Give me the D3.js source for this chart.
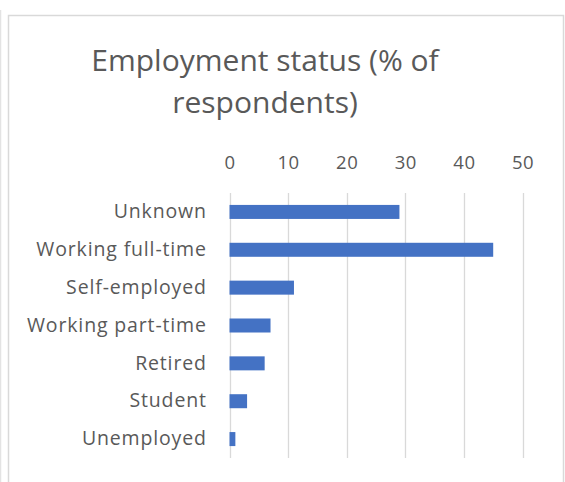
<!DOCTYPE html>
<html>
<head>
<meta charset="utf-8">
<script src="https://cdn.jsdelivr.net/npm/d3@7"></script>
<style>
  html, body { margin: 0; padding: 0; background: #ffffff; }
  svg { display: block; }
  text { font-family: "Open Sans", sans-serif; fill: #595959; }
</style>
</head>
<body>
<script>
// Employment status of respondents, in percent
const categories = ["Unknown", "Working full-time", "Self-employed", "Working part-time", "Retired", "Student", "Unemployed"];
const values = [29, 45, 11, 7, 6, 3, 1];
const tickValues = [0, 10, 20, 30, 40, 50];
const titleLines = ["Employment status (% of", "respondents)"];

const W = 565, H = 482;
const svg = d3.select("body").append("svg").attr("width", W).attr("height", H);

// outer frame lines
svg.append("line").attr("x1", 0.5).attr("x2", 0.5).attr("y1", 10).attr("y2", H)
  .attr("stroke", "#e3e3e3").attr("stroke-width", 1.5);
svg.append("path")
  .attr("d", `M8.5,${H} V15.5 H563.5 V${H}`)
  .attr("fill", "none").attr("stroke", "#d9d9d9").attr("stroke-width", 1.5);

// title
svg.append("g").selectAll("text").data(titleLines).join("text")
  .attr("x", 265).attr("y", (d, i) => 71 + i * 42)
  .attr("text-anchor", "middle")
  .style("font-size", "30px")
  .text(d => d);

const x = d3.scaleLinear().domain([0, 50]).range([229.5, 522.5]);
const y = d3.scaleBand().domain(categories).range([193, 458])
  .paddingInner(0.63).paddingOuter(0.315);

// vertical gridlines
svg.append("g").selectAll("line").data(tickValues).join("line")
  .attr("x1", d => Math.round(x(d)) + 0.5).attr("x2", d => Math.round(x(d)) + 0.5)
  .attr("y1", 193).attr("y2", 458)
  .attr("stroke", "#d9d9d9").attr("stroke-width", 1.3);

// top value axis
const xAxis = svg.append("g").attr("transform", "translate(0,169)")
  .call(d3.axisTop(x).tickValues(tickValues).tickSize(0).tickPadding(0));
xAxis.select(".domain").remove();
xAxis.selectAll("text").style("font-size", "18.5px").style("letter-spacing", "0.5px")
  .attr("fill", "#595959").attr("dy", "0");

// category axis
const yAxis = svg.append("g").attr("transform", "translate(206.8,0)")
  .call(d3.axisLeft(y).tickSize(0).tickPadding(0));
yAxis.select(".domain").remove();
yAxis.selectAll("text").style("font-size", "19.5px").style("letter-spacing", "0.85px")
  .attr("fill", "#595959");

// bars
svg.append("g").selectAll("rect").data(categories).join("rect")
  .attr("x", x(0))
  .attr("y", d => y(d))
  .attr("width", (d, i) => x(values[i]) - x(0))
  .attr("height", y.bandwidth())
  .attr("fill", "#4472c4");
</script>
</body>
</html>
